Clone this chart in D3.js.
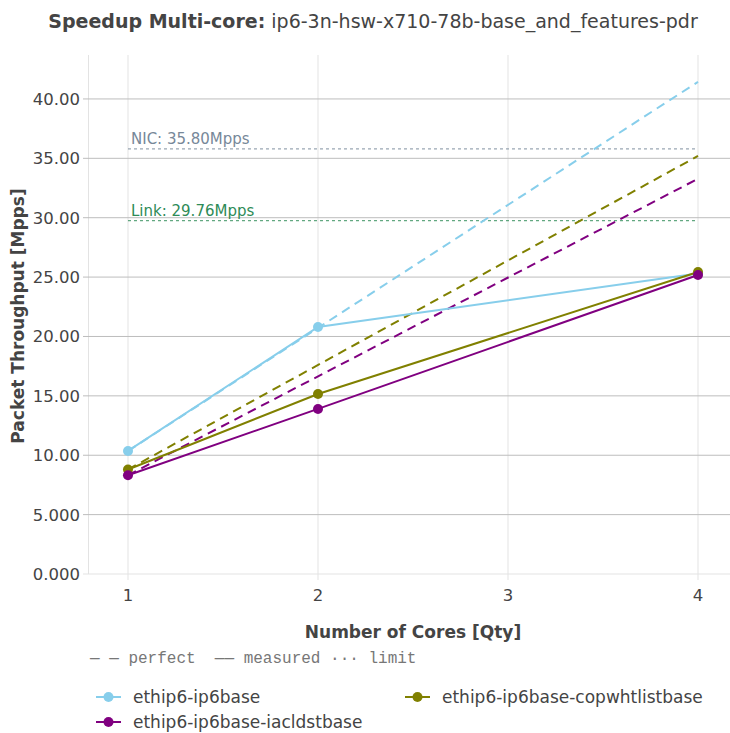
<!DOCTYPE html>
<html><head><meta charset="utf-8">
<script src="https://cdn.jsdelivr.net/npm/d3@7"></script>
<style>body{margin:0;background:#fff}svg{display:block}</style>
</head><body><svg id="c" width="730" height="733" font-family="DejaVu Sans, sans-serif"></svg>
<script>
const cores = [1, 2, 4];
const seriesNames = ["ethip6-ip6base", "ethip6-ip6base-copwhtlistbase", "ethip6-ip6base-iacldstbase"];
const seriesColors = ["#87CEEB", "#808000", "#800080"];
const measured = [
  [10.36, 20.8, 25.3],
  [8.8, 15.16, 25.43],
  [8.32, 13.9, 25.18]
];
const perfectCores = [1, 4];
const perfect = [
  [10.36, 41.44],
  [8.8, 35.2],
  [8.32, 33.28]
];
const limitNames = ["NIC: 35.80Mpps", "Link: 29.76Mpps"];
const limitValues = [35.80, 29.76];
const limitColors = ["#778899", "#2E8B57"];
const xTicks = [1, 2, 3, 4];
const yTicks = [0, 5, 10, 15, 20, 25, 30, 35, 40];
const yTickLabels = ["0.000", "5.000", "10.00", "15.00", "20.00", "25.00", "30.00", "35.00", "40.00"];

const svg = d3.select("#c");
const L = 88, R = 730, T = 55, B = 574;
const x = d3.scaleLinear().domain([0.7895, 4.1684]).range([L, R]);
const y = d3.scaleLinear().domain([0, 43.7]).range([B, T]);

// grid
svg.append("g").selectAll("line").data(xTicks).join("line")
  .attr("x1", d => x(d)).attr("x2", d => x(d)).attr("y1", T).attr("y2", B + 6)
  .attr("stroke", "#e3e3e3").attr("stroke-width", 1);
svg.append("line").attr("x1", L + 0.5).attr("x2", L + 0.5).attr("y1", T).attr("y2", B)
  .attr("stroke", "#e3e3e3");
svg.append("g").selectAll("line").data(yTicks).join("line")
  .attr("x1", L - 5).attr("x2", R).attr("y1", d => y(d)).attr("y2", d => y(d))
  .attr("stroke", d => d === 0 ? "#e3e3e3" : "#bdbdbd").attr("stroke-width", 1);

// tick labels
svg.append("g").selectAll("text").data(yTicks).join("text")
  .attr("x", L - 8).attr("y", d => y(d)).attr("dy", "0.36em")
  .attr("text-anchor", "end").attr("font-size", 16.5).attr("fill", "#444")
  .text((d, i) => yTickLabels[i]);
svg.append("g").selectAll("text").data(xTicks).join("text")
  .attr("x", d => x(d)).attr("y", B + 27)
  .attr("text-anchor", "middle").attr("font-size", 16.5).attr("fill", "#444")
  .text(d => d);

// limits
limitValues.forEach((v, i) => {
  svg.append("line").attr("x1", x(1)).attr("x2", x(4)).attr("y1", y(v)).attr("y2", y(v))
    .attr("stroke", limitColors[i]).attr("stroke-opacity", 0.75).attr("stroke-width", 1.3)
    .attr("stroke-dasharray", "3,3");
  svg.append("text").attr("x", x(1) + 3).attr("y", y(v) - 5)
    .attr("font-size", 15).attr("fill", limitColors[i]).text(limitNames[i]);
});

const line = d3.line().x(d => x(d[0])).y(d => y(d[1]));
// perfect
perfect.forEach((s, i) => {
  svg.append("path").attr("d", line(perfectCores.map((c, j) => [c, s[j]])))
    .attr("fill", "none").attr("stroke", seriesColors[i]).attr("stroke-width", 2)
    .attr("stroke-dasharray", "9,6");
});
// measured
measured.forEach((s, i) => {
  const pts = cores.map((c, j) => [c, s[j]]);
  svg.append("path").attr("d", line(pts)).attr("fill", "none")
    .attr("stroke", seriesColors[i]).attr("stroke-width", 2);
  svg.append("g").selectAll("circle").data(pts).join("circle")
    .attr("cx", d => x(d[0])).attr("cy", d => y(d[1])).attr("r", 5)
    .attr("fill", seriesColors[i]);
});

// titles
const title = svg.append("text").attr("x", 373).attr("y", 28).attr("text-anchor", "middle")
  .attr("font-size", 19).attr("fill", "#444");
title.append("tspan").attr("font-weight", "bold").text("Speedup Multi-core:");
title.append("tspan").text(" ip6-3n-hsw-x710-78b-base_and_features-pdr");

svg.append("text").attr("x", 413).attr("y", 638).attr("text-anchor", "middle")
  .attr("font-size", 17).attr("font-weight", "bold").attr("fill", "#444")
  .text("Number of Cores [Qty]");
svg.append("text").attr("transform", "translate(24,316) rotate(-90)").attr("text-anchor", "middle")
  .attr("font-size", 17).attr("font-weight", "bold").attr("fill", "#444")
  .text("Packet Throughput [Mpps]");

// style legend
svg.append("text").attr("x", 90).attr("y", 663).attr("font-size", 16)
  .attr("fill", "#777").attr("font-family", "Liberation Mono, monospace")
  .attr("xml:space", "preserve").style("white-space", "pre")
  .text("— — perfect  —— measured ··· limit");

// series legend
const legPos = [[96, 697], [405, 697], [96, 722]];
seriesNames.forEach((n, i) => {
  const [lx, ly] = legPos[i];
  svg.append("line").attr("x1", lx).attr("x2", lx + 25).attr("y1", ly).attr("y2", ly)
    .attr("stroke", seriesColors[i]).attr("stroke-width", 2);
  svg.append("circle").attr("cx", lx + 12.5).attr("cy", ly).attr("r", 5).attr("fill", seriesColors[i]);
  svg.append("text").attr("x", lx + 37).attr("y", ly).attr("dy", "0.36em")
    .attr("font-size", 17).attr("fill", "#444").text(n);
});
</script></body></html>
